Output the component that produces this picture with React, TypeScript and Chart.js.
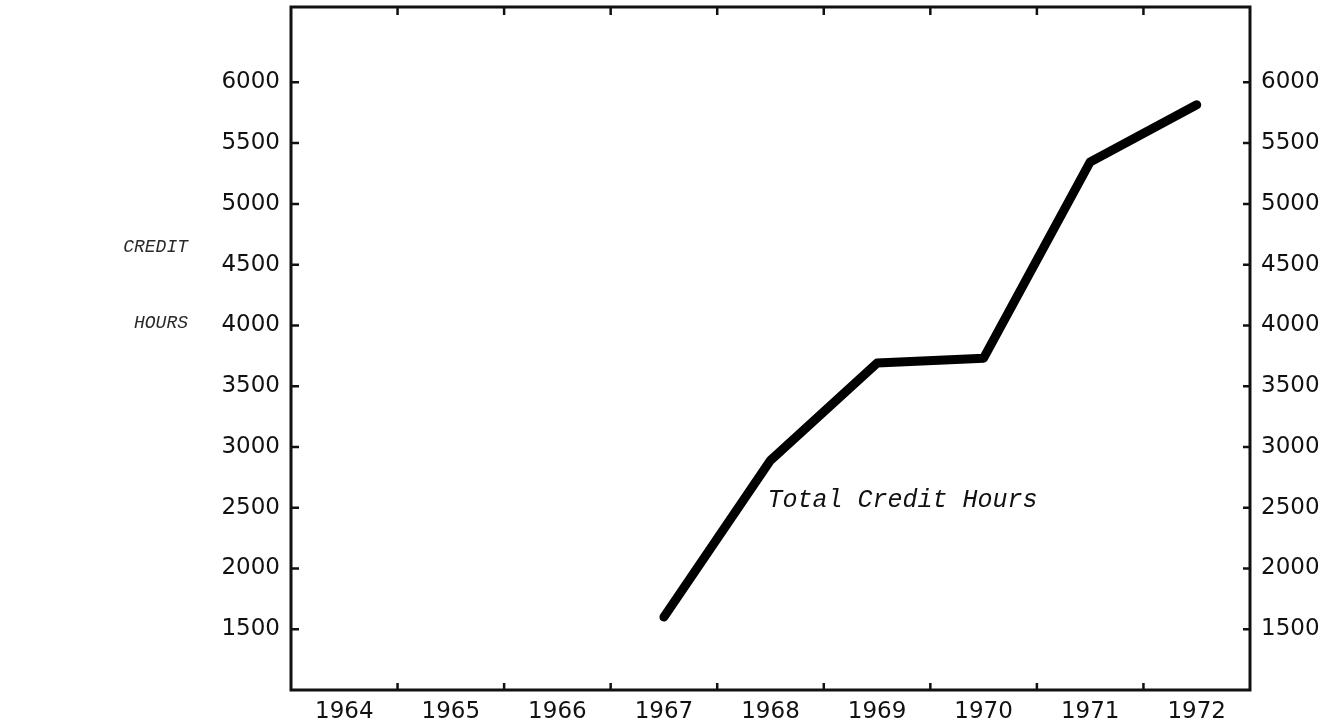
import React, { useEffect, useRef } from "react";
import { Chart, registerables } from "chart.js";

Chart.register(...registerables);

// ---- data ----
const years = ["1964", "1965", "1966", "1967", "1968", "1969", "1970", "1971", "1972"];
const creditHours: (number | null)[] = [null, null, null, 1600, 2890, 3690, 3730, 5345, 5815];
const yTickValues = [1500, 2000, 2500, 3000, 3500, 4000, 4500, 5000, 5500, 6000];
const yMin = 1000;
const yMax = 6620;
const seriesLabel = "Total Credit Hours";
const seriesLabelAnchorIndex = 4;
const seriesLabelValue = 2560;
const axisTitleLines = ["CREDIT", "HOURS"];
const axisTitleValues = [4640, 4020];

const tickFont = { family: "'DejaVu Sans', sans-serif", size: 23 };
const ink = "#111";

const framePlugin = {
  id: "frameTicks",
  afterDraw(chart: any) {
    const { ctx, chartArea } = chart;
    const xs = chart.scales.x;
    const ys = chart.scales.y;
    const { left, right, top, bottom } = chartArea;
    ctx.save();
    ctx.strokeStyle = ink;
    ctx.lineWidth = 3;
    ctx.strokeRect(left, top, right - left, bottom - top);
    ctx.lineWidth = 2.5;
    // category boundary ticks, top & bottom, pointing inward
    for (let i = 1; i < years.length; i++) {
      const x = (xs.getPixelForTick(i - 1) + xs.getPixelForTick(i)) / 2;
      ctx.beginPath();
      ctx.moveTo(x, bottom);
      ctx.lineTo(x, bottom - 7);
      ctx.moveTo(x, top);
      ctx.lineTo(x, top + 8);
      ctx.stroke();
    }
    // value ticks on left & right, pointing inward
    for (const v of yTickValues) {
      const y = ys.getPixelForValue(v);
      ctx.beginPath();
      ctx.moveTo(left, y);
      ctx.lineTo(left + 8, y);
      ctx.moveTo(right, y);
      ctx.lineTo(right - 7, y);
      ctx.stroke();
    }
    // series annotation
    ctx.fillStyle = ink;
    ctx.font = "italic 25px 'Liberation Mono', monospace";
    ctx.textAlign = "left";
    ctx.textBaseline = "middle";
    ctx.fillText(
      seriesLabel,
      xs.getPixelForValue(seriesLabelAnchorIndex) - 3,
      ys.getPixelForValue(seriesLabelValue)
    );
    // axis title
    ctx.fillStyle = "#2a2a2a";
    ctx.font = "italic 18px 'Liberation Mono', monospace";
    ctx.textAlign = "right";
    axisTitleLines.forEach((t, i) => {
      ctx.fillText(t, 188, ys.getPixelForValue(axisTitleValues[i]));
    });
    ctx.restore();
  },
};

export default function App() {
  const canvasRef = useRef<HTMLCanvasElement | null>(null);

  useEffect(() => {
    if (!canvasRef.current) return;
    const setTicks = (scale: any) => {
      scale.ticks = yTickValues.map((v) => ({ value: v }));
    };
    const noPad = (w: number) => (s: any) => {
      s.width = w;
      s.paddingTop = 0;
      s.paddingBottom = 0;
    };
    const chart = new Chart(canvasRef.current, {
      type: "line",
      data: {
        labels: years,
        datasets: [
          {
            label: seriesLabel,
            data: creditHours,
            borderColor: "#000",
            borderWidth: 9,
            pointRadius: 0,
            borderJoinStyle: "round",
            borderCapStyle: "round",
            tension: 0,
            yAxisID: "y",
          },
        ],
      },
      options: {
        animation: false,
        responsive: true,
        maintainAspectRatio: false,
        layout: { padding: { top: 7, left: 0, right: 0, bottom: 0 } },
        plugins: { legend: { display: false }, tooltip: { enabled: false } },
        scales: {
          x: {
            type: "category",
            offset: true,
            grid: { display: false, drawTicks: false },
            border: { display: false },
            ticks: { font: tickFont, color: ink, padding: 8, maxRotation: 0, autoSkip: false },
            afterFit: (s: any) => {
              s.height = 37;
              s.paddingLeft = 0;
              s.paddingRight = 0;
            },
          },
          y: {
            position: "left",
            min: yMin,
            max: yMax,
            grid: { display: false, drawTicks: false },
            border: { display: false },
            ticks: { font: tickFont, color: ink, padding: 11, callback: (v: any) => String(v) },
            afterBuildTicks: setTicks,
            afterFit: noPad(291),
          },
          y2: {
            position: "right",
            display: true,
            min: yMin,
            max: yMax,
            grid: { display: false, drawTicks: false },
            border: { display: false },
            ticks: { font: tickFont, color: ink, padding: 11, callback: (v: any) => String(v) },
            afterBuildTicks: setTicks,
            afterFit: noPad(89),
          },
        },
      },
      plugins: [framePlugin],
    });
    return () => chart.destroy();
  }, []);

  return (
    <div style={{ position: "fixed", left: 0, top: 0, width: 1339, height: 727, background: "#fff" }}>
      <canvas ref={canvasRef} />
    </div>
  );
}
